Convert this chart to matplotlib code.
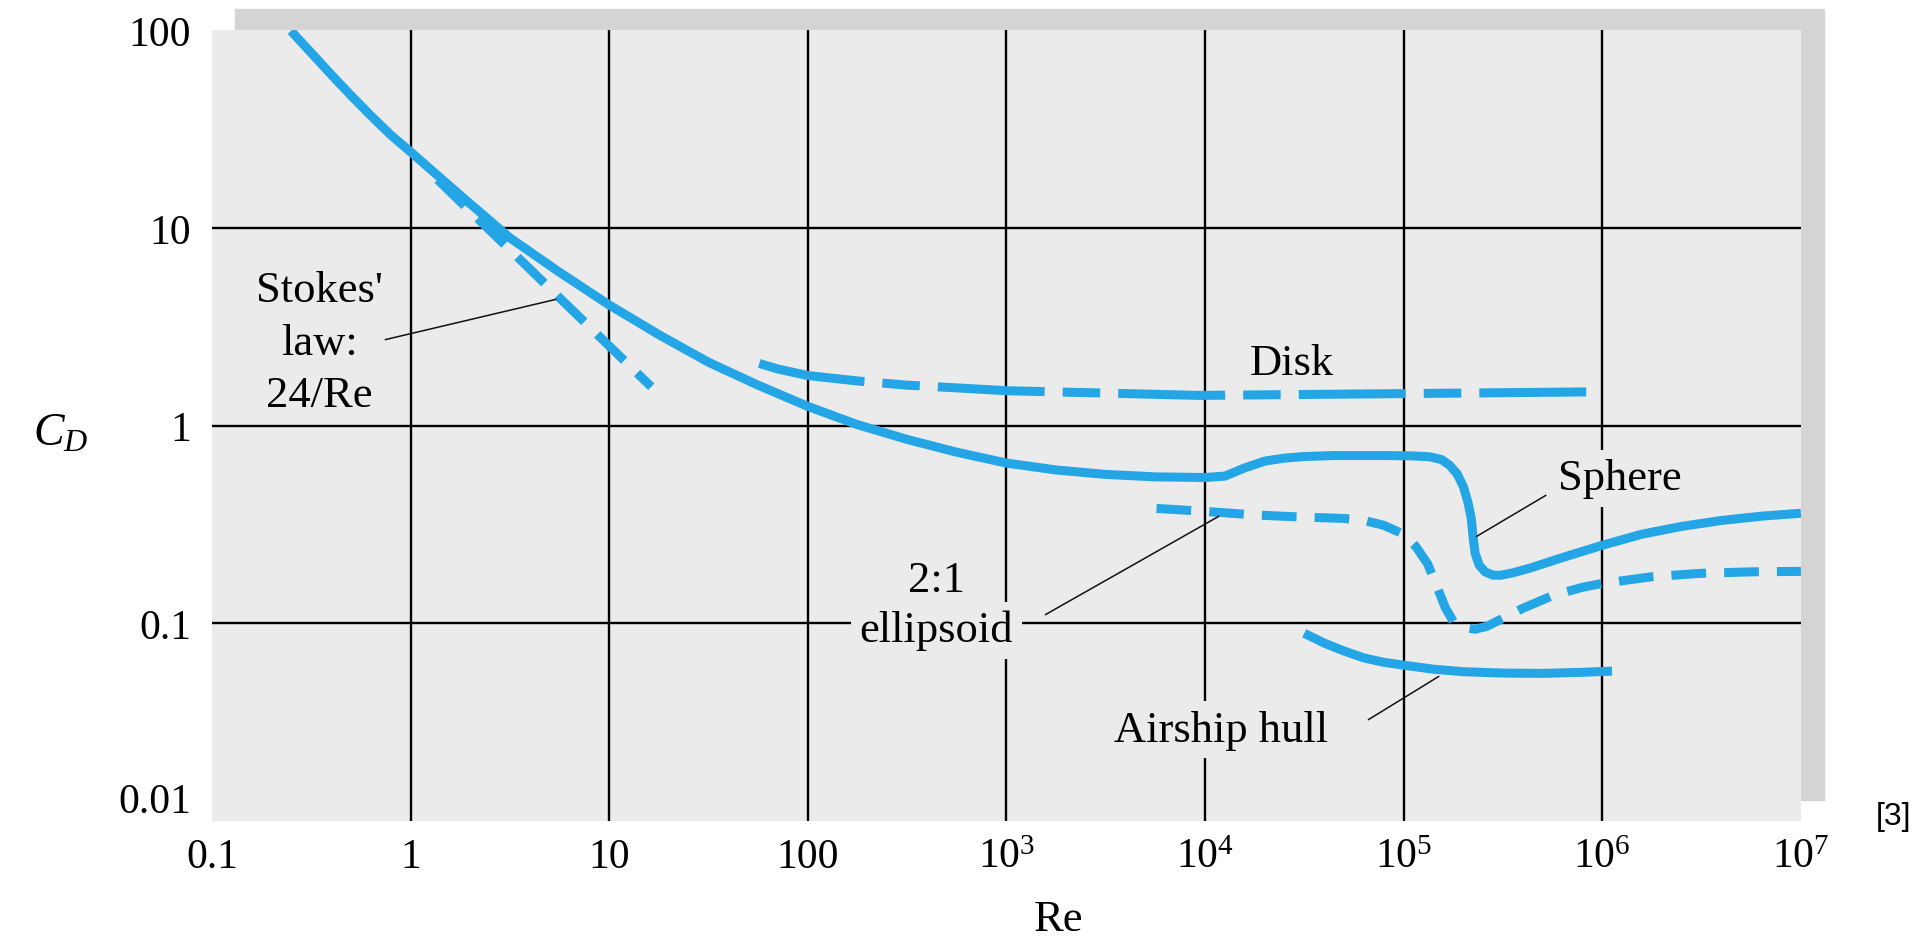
"""Drag coefficient of spheres and other bodies vs Reynolds number."""

import matplotlib
matplotlib.use("Agg")
import matplotlib.pyplot as plt
from matplotlib.patches import Rectangle

plt.rcParams['font.family'] = 'Liberation Serif'
plt.rcParams['mathtext.fontset'] = 'custom'
plt.rcParams['mathtext.rm'] = 'Liberation Serif'
plt.rcParams['mathtext.it'] = 'Liberation Serif:italic'
plt.rcParams['lines.scale_dashes'] = False

# --- data ---
sphere_re = [0.25, 0.316, 0.398, 0.5, 0.631, 0.794, 1.0, 1.78, 3.16, 5.62, 10,
             17.8, 31.6, 56.2, 100, 178, 316, 562, 1000, 1780, 3160, 5620,
             1e4, 12600, 15800, 20000, 25100, 31600, 44700, 79400, 112000,
             135000, 155000, 170000, 186000, 200000, 211000, 219000, 224000,
             229000, 240000, 257000, 282000, 309000, 355000, 432000, 631000,
             1e6, 1.58e6, 2.51e6, 3.98e6, 6.31e6, 1e7]
sphere_cd = [99, 76.7, 59.6, 46.8, 36.9, 29.5, 24.2, 14.6, 8.9, 5.96, 4.07,
             2.88, 2.09, 1.60, 1.25, 1.01, 0.851, 0.733, 0.646, 0.596, 0.566,
             0.550, 0.546, 0.555, 0.610, 0.661, 0.684, 0.697, 0.705, 0.705,
             0.702, 0.695, 0.673, 0.631, 0.569, 0.490, 0.407, 0.339, 0.269,
             0.226, 0.197, 0.182, 0.175, 0.175, 0.180, 0.190, 0.215,
             0.248, 0.282, 0.309, 0.331, 0.348, 0.360]

stokes_re = [1.37, 16.3]
stokes_cd = [17.5, 1.57]

disk_re = [57, 70.8, 100, 178, 316, 562, 1000, 9330, 1e5, 9.1e5]
disk_cd = [2.06, 1.93, 1.79, 1.68, 1.60, 1.55, 1.50, 1.42, 1.45, 1.48]

ellipsoid_re = [5700, 1e4, 17800, 31600, 50100, 63100, 79400, 1e5, 115000,
                132000, 148000, 162000, 178000, 200000, 229000, 263000,
                316000, 398000, 562000, 794000, 1e6, 1.78e6, 3.16e6, 5.62e6,
                1e7]
ellipsoid_cd = [0.381, 0.368, 0.353, 0.344, 0.339, 0.331, 0.313, 0.282, 0.245,
                0.200, 0.151, 0.120, 0.102, 0.0955, 0.0933, 0.0966,
                0.106, 0.119, 0.138, 0.152, 0.159, 0.172, 0.179, 0.182,
                0.183]

hull_re = [31600, 39800, 50100, 63100, 79400, 1e5, 141000, 200000, 316000,
           501000, 794000, 1.12e6]
hull_cd = [0.089, 0.0794, 0.0724, 0.0668, 0.0635, 0.0614, 0.0586, 0.0569,
           0.0560, 0.0558, 0.0565, 0.0573]

x_ticks = [0.1, 1, 10, 100, 1e3, 1e4, 1e5, 1e6, 1e7]
x_labels = ['0.1', '1', '10', '100', r'$10^3$', r'$10^4$', r'$10^5$',
            r'$10^6$', r'$10^7$']
y_ticks = [0.01, 0.1, 1, 10, 100]
y_labels = ['0.01', '0.1', '1', '10', '100']

# leader lines (Re, CD) of the labels
stokes_leader = ([0.748, 5.37], [2.72, 4.34])
ellipsoid_leader = ([1575, 11700], [0.1107, 0.347])
sphere_leader = ([519000, 233000], [0.443, 0.275])
hull_leader = ([66600, 150000], [0.0326, 0.0538])

BLUE = '#24a5e6'
BG = '#ebebeb'
SHADOW = '#d4d4d4'
FS = 32
LW = 6.5

fig = plt.figure(figsize=(19.3, 9.37), dpi=100)
ax = fig.add_axes([0.1098, 0.1227, 0.8233, 0.8442])
fig.add_artist(Rectangle((0.1218, 0.1451), 0.8233, 0.8442,
                         transform=fig.transFigure, color=SHADOW, zorder=-1))

ax.set_facecolor(BG)
ax.set_xscale('log')
ax.set_yscale('log')
ax.set_xlim(0.1, 1e7)
ax.set_ylim(0.01, 100)
for s in ax.spines.values():
    s.set_visible(False)

# interior grid lines only
for xv in x_ticks[1:-1]:
    ax.axvline(xv, color='black', lw=1.7, zorder=1)
for yv in y_ticks[1:-1]:
    ax.axhline(yv, color='black', lw=1.7, zorder=1)

ax.set_xticks(x_ticks, labels=x_labels)
ax.set_yticks(y_ticks, labels=y_labels)
ax.minorticks_off()
ax.tick_params(axis='x', length=0, pad=33, labelsize=30)
ax.tick_params(axis='y', length=0, pad=15, labelsize=30)
for lbl in ax.get_xticklabels():
    lbl.set_verticalalignment('baseline')
# the lowest y label sits a little above the corner
ax.get_yticklabels()[0].set_verticalalignment('bottom')

# curves
ax.plot(sphere_re, sphere_cd, color=BLUE, lw=LW, solid_joinstyle='round',
        solid_capstyle='butt', zorder=4)
ax.plot(stokes_re, stokes_cd, color=BLUE, lw=LW, dashes=(27, 13),
        dash_capstyle='butt', zorder=4)
ax.plot(disk_re, disk_cd, color=BLUE, lw=LW, dashes=(77, 13, 27, 13),
        dash_capstyle='butt', dash_joinstyle='round', zorder=4)
ax.plot(ellipsoid_re, ellipsoid_cd, color=BLUE, lw=LW, dashes=(25, 13),
        dash_capstyle='butt', dash_joinstyle='round', zorder=4)
ax.plot(hull_re, hull_cd, color=BLUE, lw=LW, solid_capstyle='butt',
        solid_joinstyle='round', zorder=4)

# leader lines
for lx, ly in [stokes_leader, ellipsoid_leader, sphere_leader, hull_leader]:
    ax.plot(lx, ly, color='#111111', lw=1.1, zorder=4)


def label(x, baselines, lines):
    for y, s in zip(baselines, lines):
        ax.text(x, y, s, ha='center', va='baseline', fontsize=FS, zorder=3,
                bbox=dict(facecolor=BG, edgecolor='none', pad=6))


label(0.348, [4.24, 2.31, 1.26], ["Stokes'", 'law:', '24/Re'])
label(27300, [1.83], ['Disk'])
label(1.22e6, [0.475], ['Sphere'])
label(445, [0.145, 0.0809], ['2:1', 'ellipsoid'])
label(12000, [0.0255], ['Airship hull'])

fig.text(61 / 1930, 1 - 446 / 937, r'$C_D$', ha='center', va='baseline',
         fontsize=FS + 1)
fig.text(1058 / 1930, 1 - 931 / 937, 'Re', ha='center', va='baseline',
         fontsize=FS)
fig.text(1894 / 1930, 1 - 825 / 937, '[3]', ha='center', va='baseline',
         fontsize=23, family='Liberation Sans')

fig.savefig('out.png', dpi=100)
plt.close(fig)
